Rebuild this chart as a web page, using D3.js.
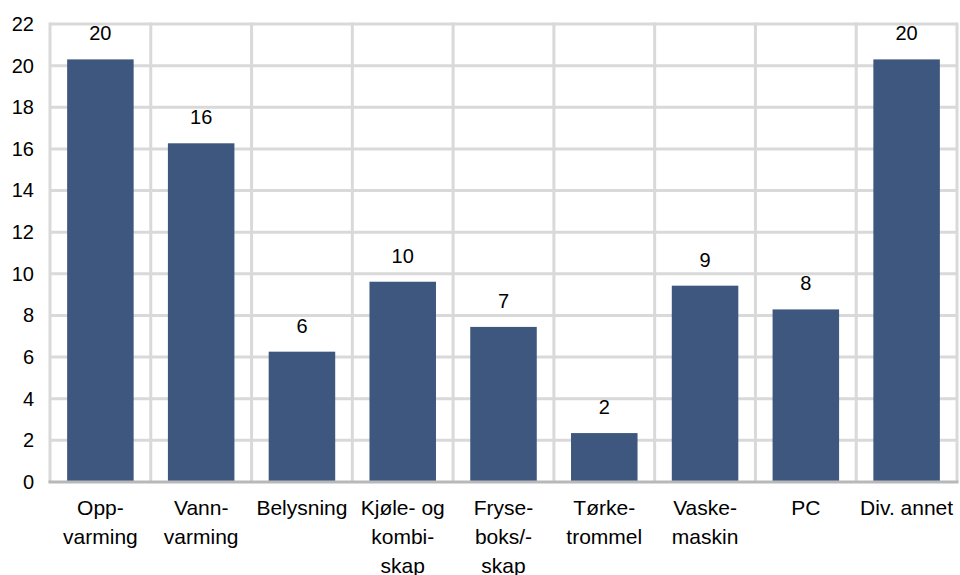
<!DOCTYPE html>
<html>
<head>
<meta charset="utf-8">
<script src="https://cdn.jsdelivr.net/npm/d3@7"></script>
<style>
  html, body { margin: 0; padding: 0; background: #fff; }
  svg { display: block; font-family: "Liberation Sans", Arial, sans-serif; }
</style>
</head>
<body>
<svg id="chart" width="960" height="575"></svg>
<script>
// Category labels, one entry per line of the wrapped label
const categories = [
  ["Opp-", "varming"],
  ["Vann-", "varming"],
  ["Belysning"],
  ["Kjøle- og", "kombi-", "skap"],
  ["Fryse-", "boks/-", "skap"],
  ["Tørke-", "trommel"],
  ["Vaske-", "maskin"],
  ["PC"],
  ["Div. annet"]
];
const values = [20.3, 16.27, 6.26, 9.62, 7.45, 2.35, 9.43, 8.29, 20.3];
const yTicks = [0, 2, 4, 6, 8, 10, 12, 14, 16, 18, 20, 22];

const svg = d3.select("#chart");
const margin = { left: 50, right: 3, top: 24, bottom: 93 };
const W = 960, H = 575;
const x0 = margin.left, x1 = W - margin.right;
const y0 = H - margin.bottom, y1 = margin.top;

const keys = categories.map((c, i) => i);
const x = d3.scaleBand().domain(keys).range([x0, x1]).paddingInner(0.34).paddingOuter(0.17);
const xCell = d3.scaleBand().domain(keys).range([x0, x1]);
const y = d3.scaleLinear().domain([0, 22]).range([y0, y1]);

const grid = svg.append("g").attr("stroke", "#d9d9d9").attr("stroke-width", 3);
// horizontal gridlines
grid.selectAll("line.h").data(yTicks.filter(t => t > 0)).join("line")
  .attr("class", "h")
  .attr("x1", x0).attr("x2", x1)
  .attr("y1", d => y(d)).attr("y2", d => y(d));
// vertical gridlines at category boundaries
const bounds = keys.map(k => xCell(k)).concat([x1]);
grid.selectAll("line.v").data(bounds).join("line")
  .attr("class", "v")
  .attr("x1", d => d).attr("x2", d => d)
  .attr("y1", y(22) - 1.5).attr("y2", y0);

// bars
svg.append("g").selectAll("rect").data(values).join("rect")
  .attr("x", (d, i) => x(i))
  .attr("width", x.bandwidth())
  .attr("y", d => y(d))
  .attr("height", d => y(0) - y(d))
  .attr("fill", "#3e577f");

// baseline
svg.append("line")
  .attr("x1", x0 - 1.5).attr("x2", x1 + 1.5)
  .attr("y1", y0).attr("y2", y0)
  .attr("stroke", "#b8b8b8").attr("stroke-width", 3);

// y axis tick labels
const yAxis = d3.axisLeft(y).tickValues(yTicks).tickSize(0).tickPadding(0);
const ya = svg.append("g").attr("transform", `translate(${x0 - 16},0)`).call(yAxis);
ya.select(".domain").remove();
ya.selectAll("text").attr("font-size", 20).attr("fill", "#000")
  .attr("font-family", "'Liberation Sans', Arial, sans-serif");

// value labels
const fmt = d3.format(".0f");
svg.append("g").selectAll("text").data(values).join("text")
  .attr("x", (d, i) => x(i) + x.bandwidth() / 2)
  .attr("y", d => y(d) - 19)
  .attr("text-anchor", "middle")
  .attr("font-size", 20)
  .attr("fill", "#000")
  .text(d => fmt(d));

// category labels
const cl = svg.append("g").selectAll("text").data(categories).join("text")
  .attr("text-anchor", "middle")
  .attr("font-size", 21)
  .attr("fill", "#000")
  .attr("transform", (d, i) => `translate(${x(i) + x.bandwidth() / 2},${y0 + 33})`);
cl.selectAll("tspan").data(d => d).join("tspan")
  .attr("x", 0)
  .attr("dy", (d, i) => i === 0 ? 0 : 29)
  .text(d => d);
</script>
</body>
</html>
